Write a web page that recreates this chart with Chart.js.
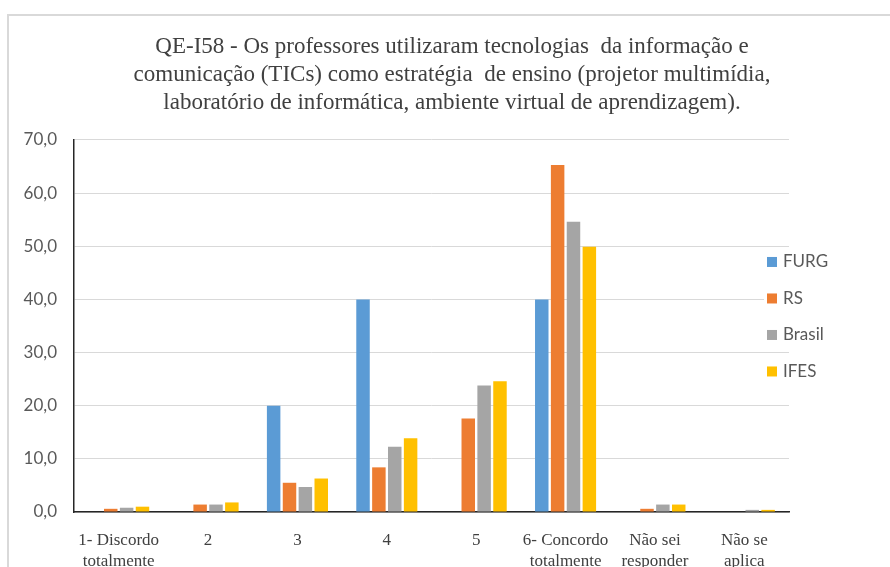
<!DOCTYPE html>
<html>
<head>
<meta charset="utf-8">
<script src="https://cdn.jsdelivr.net/npm/chart.js@4.4.1/dist/chart.umd.min.js"></script>
<style>
	html, body { margin: 0; padding: 0; background: #fff; overflow: hidden; }
	#moldura { position: absolute; left: 7px; top: 14px; width: 900px; height: 600px; border-left: 2px solid #d9d9d9; border-top: 2px solid #d9d9d9; }
	#grafico { position: absolute; left: 0; top: 0; width: 890px; height: 567px; }
</style>
</head>
<body>
<div id="moldura"></div>
<div id="grafico"><canvas id="barChartDiv"></canvas></div>
<script>
var categorias = [["1- Discordo", "totalmente"], "2", "3", "4", "5", ["6- Concordo", "totalmente"], ["Não sei", "responder"], ["Não se", "aplica"]];
var furg = [0, 0, 20.0, 40.0, 0, 40.0, 0, 0];
var rs = [0.6, 1.4, 5.5, 8.4, 17.6, 65.3, 0.6, 0];
var brasil = [0.8, 1.4, 4.7, 12.3, 23.8, 54.6, 1.4, 0.4];
var ifes = [1.0, 1.8, 6.3, 13.9, 24.6, 49.9, 1.4, 0.4];
var ticksY = [0, 10, 20, 30, 40, 50, 60, 70];

var titulo = [
	"QE-I58 - Os professores utilizaram tecnologias  da informação e",
	"comunicação (TICs) como estratégia  de ensino (projetor multimídia,",
	"laboratório de informática, ambiente virtual de aprendizagem)."
];

// legenda desenhada dentro da area do grafico, a direita
var legendaLateral = {
	id: 'legendaLateral',
	afterDraw: function(chart) {
		var ctx = chart.ctx;
		var area = chart.chartArea;
		ctx.save();
		ctx.font = '17px Lato';
		ctx.textBaseline = 'middle';
		ctx.textAlign = 'left';
		chart.data.datasets.forEach(function(ds, i) {
			var x = area.right - 22;
			var y = area.top + 122 + i * 36.5;
			ctx.fillStyle = '#ffffff';
			ctx.fillRect(x - 3, y - 10, 80, 20);
			ctx.fillStyle = ds.backgroundColor;
			ctx.fillRect(x, y - 5, 10, 10);
			ctx.fillStyle = '#595959';
			ctx.fillText(ds.label, x + 16, y);
		});
		ctx.restore();
	}
};

var barChartDiv = document.getElementById('barChartDiv');

var barChart = new Chart(barChartDiv, {
	type: 'bar',
	data: {
		labels: categorias,
		datasets: [
			{ label: 'FURG', data: furg, backgroundColor: '#5B9BD5' },
			{ label: 'RS', data: rs, backgroundColor: '#ED7D31' },
			{ label: 'Brasil', data: brasil, backgroundColor: '#A5A5A5' },
			{ label: 'IFES', data: ifes, backgroundColor: '#FFC000' }
		]
	},
	options: {
		responsive: true,
		maintainAspectRatio: false,
		animation: false,
		layout: { padding: { left: 14, right: 0, top: 0, bottom: 0 } },
		datasets: {
			bar: { categoryPercentage: 0.71, barPercentage: 0.85 }
		},
		plugins: {
			legend: { display: false },
			tooltip: { enabled: false },
			title: {
				display: true,
				text: titulo,
				color: '#404040',
				font: { family: 'Liberation Serif', size: 23, weight: 'normal', lineHeight: 1.217 },
				padding: { top: 33, bottom: 23 }
			}
		},
		scales: {
			x: {
				grid: { display: false },
				border: { display: true, color: '#262626', width: 1.5 },
				ticks: {
					color: '#404040',
					maxRotation: 0,
					autoSkip: false,
					padding: 11,
					font: { family: 'Liberation Serif', size: 17, lineHeight: 1.18 }
				},
				afterFit: function(scale) { scale.height = 55; }
			},
			y: {
				min: 0,
				max: 70,
				grid: { color: '#d9d9d9', lineWidth: 1, drawTicks: false },
				border: { display: true, color: '#262626', width: 1.5 },
				ticks: {
					color: '#595959',
					padding: 17,
					font: { family: 'Lato', size: 17 },
					callback: function(v) { return v.toFixed(1).replace('.', ','); }
				},
				afterBuildTicks: function(axis) {
					axis.ticks = ticksY.map(function(v) { return { value: v }; });
				},
				afterFit: function(scale) { scale.width = 60; }
			},
			// eixo vazio so para reservar o espaco da legenda
			yLegenda: {
				type: 'linear',
				position: 'right',
				display: true,
				grid: { display: false },
				border: { display: false },
				ticks: { display: false },
				afterFit: function(scale) { scale.width = 101; }
			}
		}
	},
	plugins: [legendaLateral]
});
</script>
</body>
</html>
